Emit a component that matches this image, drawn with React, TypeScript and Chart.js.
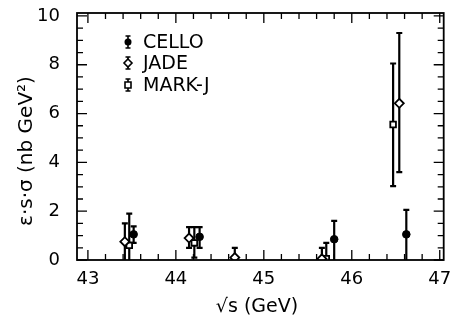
import React, { useEffect, useRef } from "react";
import { Chart, registerables } from "chart.js";

Chart.register(...registerables);

// ---- data ----
const celloX = [43.52, 44.27, 45.8, 46.62];
const celloY = [1.05, 0.95, 0.85, 1.05];
const celloLo = [0.7, 0.5, 0.0, 0.0];
const celloHi = [1.38, 1.35, 1.6, 2.05];

const jadeX = [43.42, 44.15, 44.67, 45.66, 46.54];
const jadeY = [0.75, 0.9, 0.1, 0.05, 6.42];
const jadeLo = [0.0, 0.5, 0.0, 0.0, 3.6];
const jadeHi = [1.5, 1.35, 0.5, 0.5, 9.3];

const markjX = [43.47, 44.21, 45.71, 46.47];
const markjY = [0.6, 0.7, 0.05, 5.55];
const markjLo = [0.0, 0.1, 0.0, 3.03];
const markjHi = [1.9, 1.35, 0.7, 8.05];

const seriesNames = ["CELLO", "JADE", "MARK-J"];
const xTickValues = [43, 44, 45, 46, 47];
const yTickValues = [0, 2, 4, 6, 8, 10];
const xTitle = "\u221As (GeV)";
const yTitle = "\u03B5\u00B7s\u00B7\u03C3 (nb GeV\u00B2)";

const FONT = "'DejaVu Sans', sans-serif";

function build(xs: number[], ys: number[], lo: number[], hi: number[]) {
  return xs.map((x, i) => ({ x, y: ys[i], lo: lo[i], hi: hi[i] }));
}

const errorBars = {
  id: "errorBars",
  beforeDatasetsDraw(chart: any) {
    const { ctx, chartArea, scales } = chart;
    const xs = scales.x;
    const ys = scales.y;
    ctx.save();
    ctx.beginPath();
    ctx.rect(chartArea.left, chartArea.top - 2, chartArea.right - chartArea.left, chartArea.bottom - chartArea.top + 2);
    ctx.clip();
    ctx.strokeStyle = "#000";
    ctx.lineWidth = 2.2;
    chart.data.datasets.forEach((ds: any) => {
      ds.data.forEach((p: any) => {
        const px = xs.getPixelForValue(p.x);
        const y1 = ys.getPixelForValue(p.lo);
        const y2 = ys.getPixelForValue(p.hi);
        ctx.beginPath();
        ctx.moveTo(px, y1);
        ctx.lineTo(px, y2);
        ctx.moveTo(px - 3, y2);
        ctx.lineTo(px + 3, y2);
        if (p.lo > 0.05) {
          ctx.moveTo(px - 3, y1);
          ctx.lineTo(px + 3, y1);
        }
        ctx.stroke();
      });
    });
    ctx.restore();
  },
};

const frameAndText = {
  id: "frameAndText",
  afterDraw(chart: any) {
    const { ctx, chartArea, scales } = chart;
    const { left, right, top, bottom } = chartArea;
    const xs = scales.x;
    const ys = scales.y;
    ctx.save();
    ctx.strokeStyle = "#000";
    ctx.lineWidth = 1.8;
    ctx.strokeRect(left, top, right - left, bottom - top);
    ctx.lineWidth = 1.3;
    ctx.beginPath();
    // x ticks every 0.2, longer at integers
    for (let i = 0; i <= 20; i++) {
      const v = 43 + i * 0.2;
      const px = xs.getPixelForValue(v);
      if (px < left || px > right) continue;
      const len = i % 5 === 0 ? 10 : 6;
      ctx.moveTo(px, bottom);
      ctx.lineTo(px, bottom - len);
      ctx.moveTo(px, top);
      ctx.lineTo(px, top + len);
    }
    // y ticks every 0.5, longer at even integers
    for (let i = 0; i <= 20; i++) {
      const v = i * 0.5;
      const py = ys.getPixelForValue(v);
      if (py < top - 0.5 || py > bottom + 0.5) continue;
      const len = i % 4 === 0 ? 10 : 6;
      ctx.moveTo(left, py);
      ctx.lineTo(left + len, py);
      ctx.moveTo(right, py);
      ctx.lineTo(right - len, py);
    }
    ctx.stroke();

    // axis titles
    ctx.fillStyle = "#000";
    ctx.font = "19px " + FONT;
    ctx.textAlign = "center";
    ctx.textBaseline = "middle";
    ctx.fillText(xTitle, 257, 307);
    ctx.save();
    ctx.translate(27, 151);
    ctx.rotate(-Math.PI / 2);
    ctx.font = "20px " + FONT;
    ctx.fillText(yTitle, 0, 0);
    ctx.restore();

    // legend
    const rows = [42, 63, 85];
    chart.data.datasets.forEach((ds: any, i: number) => {
      const mx = 128;
      const my = rows[i];
      ctx.lineWidth = 1.6;
      ctx.beginPath();
      ctx.moveTo(mx, my - 6);
      ctx.lineTo(mx, my + 6);
      ctx.moveTo(mx - 2.5, my - 6);
      ctx.lineTo(mx + 2.5, my - 6);
      ctx.moveTo(mx - 2.5, my + 6);
      ctx.lineTo(mx + 2.5, my + 6);
      ctx.stroke();
      ctx.beginPath();
      if (ds.pointStyle === "circle") {
        ctx.arc(mx, my, 3.5, 0, Math.PI * 2);
        ctx.fillStyle = "#000";
        ctx.fill();
      } else if (ds.pointStyle === "rectRot") {
        ctx.moveTo(mx, my - 4);
        ctx.lineTo(mx + 4, my);
        ctx.lineTo(mx, my + 4);
        ctx.lineTo(mx - 4, my);
        ctx.closePath();
        ctx.fillStyle = "#fff";
        ctx.fill();
        ctx.stroke();
      } else {
        ctx.rect(mx - 3, my - 3, 6, 6);
        ctx.fillStyle = "#fff";
        ctx.fill();
        ctx.stroke();
      }
      ctx.fillStyle = "#000";
      ctx.font = "19px " + FONT;
      ctx.textAlign = "left";
      ctx.fillText(ds.label, 143, my + 1);
    });
    ctx.restore();
  },
};

export default function App() {
  const ref = useRef<HTMLCanvasElement>(null);
  useEffect(() => {
    document.body.style.margin = "0";
    const canvas = ref.current!;
    const chart = new Chart(canvas, {
      type: "scatter",
      data: {
        datasets: [
          {
            label: seriesNames[0],
            data: build(celloX, celloY, celloLo, celloHi),
            pointStyle: "circle",
            pointRadius: 3.8,
            pointBackgroundColor: "#000",
            pointBorderColor: "#000",
            pointBorderWidth: 1,
          },
          {
            label: seriesNames[1],
            data: build(jadeX, jadeY, jadeLo, jadeHi),
            pointStyle: "rectRot",
            pointRadius: 4.5,
            pointBackgroundColor: "#fff",
            pointBorderColor: "#000",
            pointBorderWidth: 1.8,
          },
          {
            label: seriesNames[2],
            data: build(markjX, markjY, markjLo, markjHi),
            pointStyle: "rect",
            pointRadius: 4,
            pointBackgroundColor: "#fff",
            pointBorderColor: "#000",
            pointBorderWidth: 1.8,
          },
        ] as any,
      },
      options: {
        animation: false,
        responsive: false,
        devicePixelRatio: 1,
        layout: { padding: { left: 0, right: 1, top: 13, bottom: 0 } },
        plugins: { legend: { display: false }, tooltip: { enabled: false } },
        scales: {
          x: {
            type: "linear",
            min: 42.876,
            max: 47.045,
            grid: { display: false },
            border: { display: false },
            afterBuildTicks: (s: any) => {
              s.ticks = xTickValues.map((v) => ({ value: v }));
            },
            afterFit: (s: any) => {
              s.height = 65;
              s.paddingLeft = 0;
              s.paddingRight = 0;
            },
            ticks: {
              color: "#000",
              font: { family: FONT, size: 18 },
              padding: 1,
              maxRotation: 0,
              autoSkip: false,
            },
          },
          y: {
            type: "linear",
            min: 0,
            max: 10.12,
            grid: { display: false },
            border: { display: false },
            afterBuildTicks: (s: any) => {
              s.ticks = yTickValues.map((v) => ({ value: v }));
            },
            afterFit: (s: any) => {
              s.width = 77;
              s.paddingTop = 0;
              s.paddingBottom = 0;
            },
            ticks: {
              color: "#000",
              font: { family: FONT, size: 18 },
              padding: 9,
              autoSkip: false,
            },
          },
        },
      },
      plugins: [errorBars, frameAndText],
    });
    return () => chart.destroy();
  }, []);
  return (
    <div style={{ width: 450, height: 325 }}>
      <canvas ref={ref} width={450} height={325} />
    </div>
  );
}
